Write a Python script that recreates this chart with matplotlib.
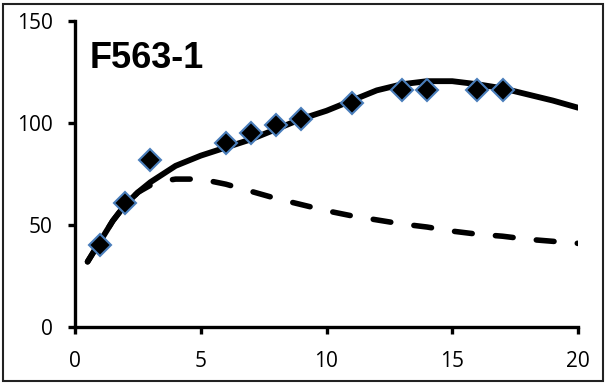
import matplotlib.pyplot as plt
from matplotlib.patches import Rectangle

# measured points
x_obs = [1, 2, 3, 6, 7, 8, 9, 11, 13, 14, 16, 17]
y_obs = [40, 61, 82, 90, 95, 99, 102, 110, 116, 116, 116, 116]

# model curves
x_fit = [0.5, 1, 1.5, 2, 2.5, 3, 3.5, 4, 5, 6, 7, 8, 9, 10, 11, 12, 13, 14, 15, 16, 17, 18, 19, 20]
y_solid = [32, 42, 52, 60, 66, 71, 75, 79, 84, 88, 92, 97, 102, 106, 111, 116, 119, 120.5, 120.5, 119, 117, 114, 111, 107.5]
y_dash = [32, 42, 52, 60, 66, 69.5, 71.5, 72.5, 72.5, 70, 66.5, 63, 60, 57, 54.5, 52.5, 50.5, 49, 47, 45.5, 44.5, 43, 42, 41]

fig = plt.figure(figsize=(6.06, 3.85), dpi=100)
ax = fig.add_axes([75/606, 1-327/385, (578-75)/606, (327-21)/385])

ax.plot(x_fit, y_solid, color='black', lw=4.2, solid_capstyle='round', solid_joinstyle='round')
ax.plot(x_fit, y_dash, color='black', lw=4.0, linestyle=(0, (3.2, 4.2)), dash_capstyle='round')
ax.plot(x_obs, y_obs, linestyle='none', marker='D', markersize=11, markerfacecolor='black',
        markeredgecolor='#4a7ebb', markeredgewidth=1.5, zorder=5)

ax.set_xlim(0, 20)
ax.set_ylim(0, 150)
ax.set_xticks([0, 5, 10, 15, 20])
ax.set_yticks([0, 50, 100, 150])
for s in ['top', 'right']:
    ax.spines[s].set_visible(False)
for s in ['left', 'bottom']:
    ax.spines[s].set_linewidth(2.4)
ax.tick_params(direction='out', length=5, width=2.4, labelsize=15)
ax.tick_params(axis='y', pad=11)
ax.tick_params(axis='x', pad=12)
for lab in ax.get_xticklabels() + ax.get_yticklabels():
    lab.set_family('Open Sans')

ax.text(0.03, 0.935, 'F563-1', transform=ax.transAxes, fontsize=26, fontweight='bold',
        family='Liberation Sans', va='top', ha='left')

fig.patches.append(Rectangle((3/606, 4/385), 600/606, 377/385, transform=fig.transFigure,
                             fill=False, edgecolor='#222222', lw=1.5))

fig.savefig('out.png', dpi=100)
